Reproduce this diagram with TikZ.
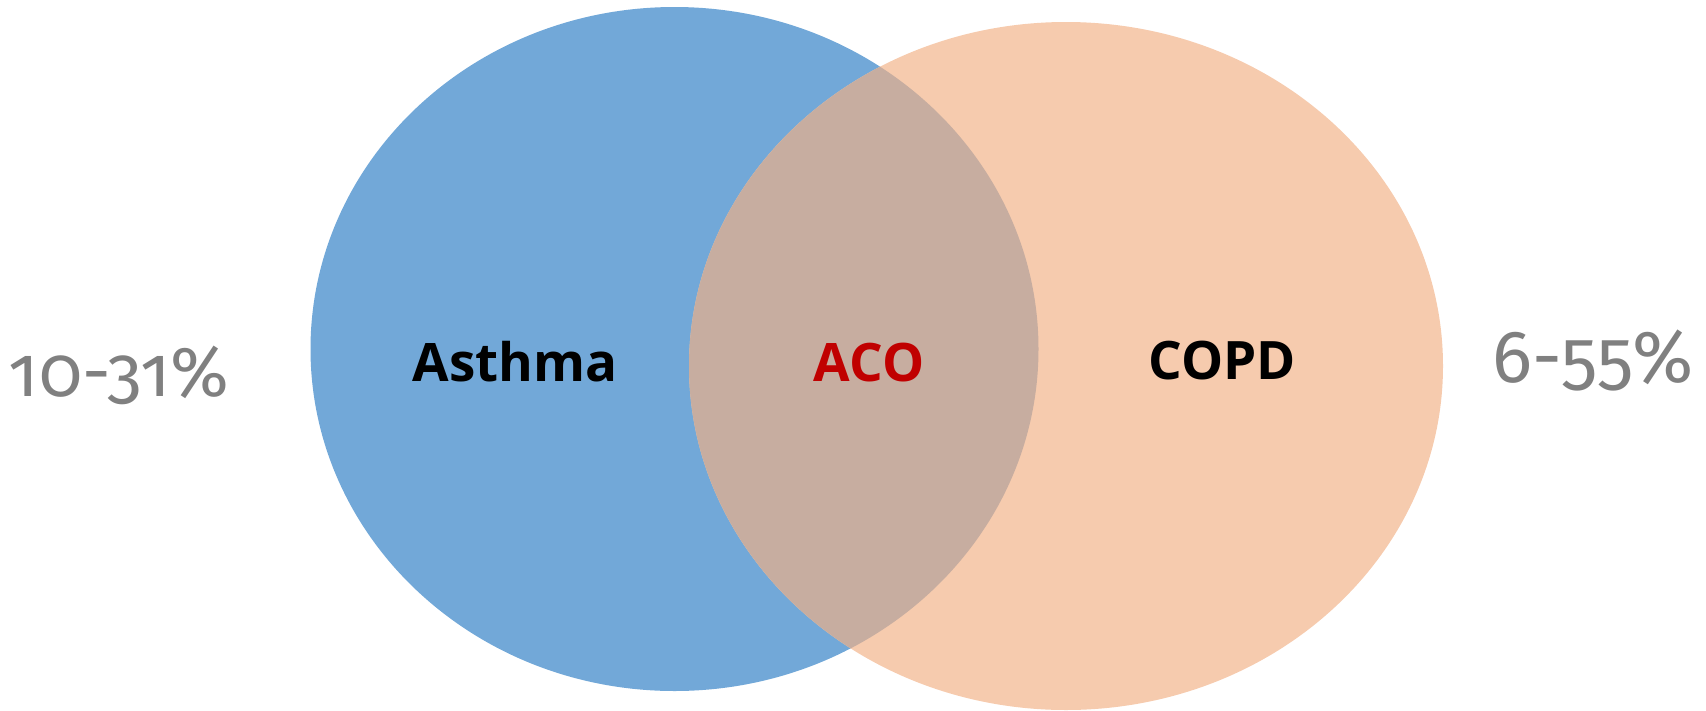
\documentclass[tikz,border=0pt]{standalone}
\usepackage{fontspec}
\newfontfamily\labfont{Open Sans}
\newfontfamily\numfont[Numbers=OldStyle]{Fira Sans}
\definecolor{blueset}{RGB}{114,168,216}
\definecolor{orangeset}{RGB}{246,203,174}
\definecolor{overlapset}{RGB}{199,173,160}
\definecolor{acored}{RGB}{192,0,0}
\definecolor{pctgray}{RGB}{128,128,128}
\tikzset{
  setlabel/.style={inner sep=0pt, anchor=base, font=\labfont\bfseries\fontsize{53}{53}\selectfont},
  pctlabel/.style={inner sep=0pt, anchor=base, text=pctgray, font=\numfont\fontsize{71}{71}\selectfont},
}
\begin{document}
\begin{tikzpicture}[x=1pt,y=-1pt]
\useasboundingbox (0,0) rectangle (1706,710);
\fill[blueset] (674.5,349) ellipse [x radius=364, y radius=342];
\fill[orangeset] (1066,366) ellipse [x radius=377, y radius=344];
\begin{scope}
  \clip (674.5,349) ellipse [x radius=364, y radius=342];
  \fill[overlapset] (1066,366) ellipse [x radius=377, y radius=344];
\end{scope}
\node[setlabel] (asthma) at (515,381) {Asthma};
\node[setlabel, text=acored] (aco) at (869,381) {ACO};
\node[setlabel] (copd) at (1222,379) {COPD};
\node[pctlabel] (pctl) at (119,396) {10-31\%};
\node[pctlabel, font=\numfont\fontsize{74}{74}\selectfont] (pctr) at (1593,382) {6-55\%};
\end{tikzpicture}
\end{document}
